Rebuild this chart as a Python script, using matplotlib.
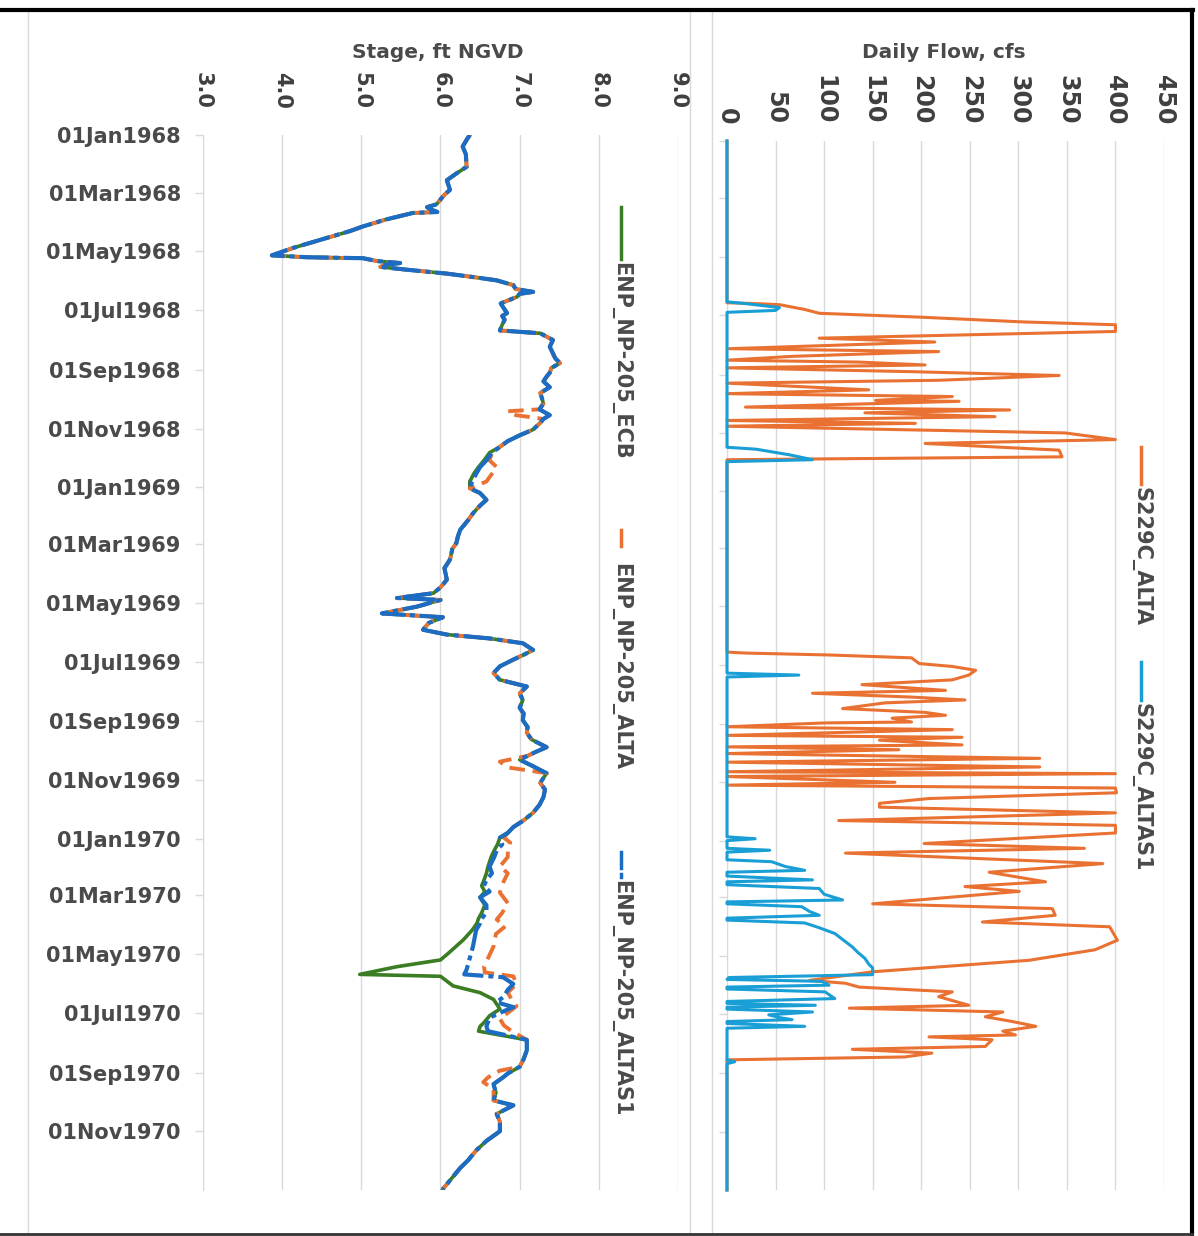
import numpy as np
import matplotlib
matplotlib.use("Agg")
import matplotlib.pyplot as plt
from matplotlib.lines import Line2D

# ---------------- data ----------------
START = np.datetime64('1968-01-01')
END = np.datetime64('1971-01-01')

DATE_TICKS = ['1968-01-01', '1968-03-01', '1968-05-01', '1968-07-01', '1968-09-01', '1968-11-01',
              '1969-01-01', '1969-03-01', '1969-05-01', '1969-07-01', '1969-09-01', '1969-11-01',
              '1970-01-01', '1970-03-01', '1970-05-01', '1970-07-01', '1970-09-01', '1970-11-01']
DATE_LABELS = ['01Jan1968', '01Mar1968', '01May1968', '01Jul1968', '01Sep1968', '01Nov1968',
               '01Jan1969', '01Mar1969', '01May1969', '01Jul1969', '01Sep1969', '01Nov1969',
               '01Jan1970', '01Mar1970', '01May1970', '01Jul1970', '01Sep1970', '01Nov1970']
STAGE_TICKS = [3, 4, 5, 6, 7, 8, 9]
STAGE_LABELS = ['3.0', '4.0', '5.0', '6.0', '7.0', '8.0', '9.0']
FLOW_TICKS = [0, 50, 100, 150, 200, 250, 300, 350, 400, 450]

# stage series: day offset from 01Jan1968, stage (ft NGVD)
ALTAS1_DAYS = [0, 5, 12, 20, 33, 40, 47, 52, 57, 62, 67, 72, 75, 78, 80, 81, 88, 95, 100, 109,
               117, 125, 127, 128, 131, 133, 135, 137, 140, 144, 148, 151, 156, 160, 163, 165, 168, 172, 175, 180,
               185, 188, 192, 197, 203, 206, 210, 213, 220, 227, 232, 237, 242, 247, 251, 256, 262, 268, 273, 279,
               285, 291, 295, 299, 306, 312, 318, 324, 330, 338, 345, 352, 360, 367, 372, 379, 385, 393, 400, 410,
               417, 424, 430, 441, 450, 462, 470, 476, 481, 483, 490, 497, 501, 507, 514, 519, 523, 528, 535, 540,
               545, 552, 559, 566, 573, 580, 587, 595, 601, 608, 615, 621, 628, 636, 641, 649, 655, 663, 668, 673,
               680, 688, 696, 704, 712, 719, 725, 730, 737, 743, 750, 760, 767, 774, 780, 786, 792, 800, 808, 814,
               819, 826, 843, 867, 872, 875, 882, 888, 895, 901, 906, 912, 917, 926, 931, 940, 951, 960, 968, 975,
               979, 986, 995, 1003, 1008, 1017, 1025, 1035, 1045, 1055, 1065, 1073, 1085, 1095]
ALTAS1_STAGE = [6.37, 6.33, 6.28, 6.32, 6.33, 6.20, 6.08, 6.10, 6.12, 6.05, 6.00, 5.95, 5.83, 5.90, 5.96, 5.65, 5.30, 5.02, 4.85, 4.48,
                4.15, 3.87, 4.31, 5.02, 5.20, 5.49, 5.30, 5.24, 5.58, 6.08, 6.45, 6.71, 6.92, 6.95, 7.17, 7.00, 6.97, 6.85, 6.76, 6.80,
                6.84, 6.78, 6.81, 6.78, 6.75, 7.26, 7.35, 7.42, 7.38, 7.42, 7.45, 7.51, 7.40, 7.38, 7.34, 7.30, 7.38, 7.26, 7.28, 7.30,
                7.25, 7.38, 7.30, 7.26, 7.17, 7.00, 6.85, 6.75, 6.65, 6.58, 6.50, 6.45, 6.40, 6.37, 6.50, 6.58, 6.50, 6.41, 6.35, 6.25,
                6.22, 6.20, 6.15, 6.12, 6.05, 6.08, 6.00, 5.91, 5.45, 6.00, 5.70, 5.26, 6.03, 5.85, 5.78, 6.08, 6.62, 7.04, 7.17, 7.05,
                6.92, 6.75, 6.67, 6.75, 7.09, 7.00, 7.04, 7.00, 7.05, 7.04, 7.10, 7.09, 7.15, 7.34, 7.20, 7.00, 7.15, 7.34, 7.30, 7.26,
                7.32, 7.30, 7.25, 7.17, 7.05, 6.92, 6.85, 6.75, 6.78, 6.71, 6.68, 6.62, 6.65, 6.58, 6.55, 6.62, 6.50, 6.58, 6.58, 6.52,
                6.50, 6.45, 6.41, 6.33, 6.30, 6.79, 6.92, 6.85, 6.80, 6.71, 6.92, 6.75, 6.62, 6.58, 6.60, 7.09, 7.09, 7.05, 7.00, 6.85,
                6.79, 6.67, 6.70, 6.67, 6.92, 6.71, 6.75, 6.75, 6.58, 6.45, 6.35, 6.25, 6.13, 6.03]

ALTA_DAYS = [0, 5, 12, 20, 33, 40, 47, 52, 57, 62, 67, 72, 75, 78, 80, 81, 88, 95, 100, 109,
             117, 125, 127, 128, 131, 133, 135, 137, 140, 144, 148, 151, 156, 160, 163, 165, 168, 172, 175, 180,
             185, 188, 192, 197, 203, 206, 210, 213, 220, 227, 232, 237, 242, 247, 251, 256, 262, 268, 273, 279,
             285, 287, 291, 295, 299, 306, 312, 318, 324, 330, 338, 345, 352, 360, 367, 372, 379, 385, 393, 400, 410,
             417, 424, 430, 441, 450, 462, 470, 476, 481, 483, 490, 497, 501, 507, 514, 519, 523, 528, 535, 540,
             545, 552, 559, 566, 573, 580, 587, 595, 601, 608, 615, 621, 628, 636, 641, 645, 651, 657, 663, 668, 673,
             680, 688, 696, 704, 712, 719, 725, 730, 735, 742, 750, 760, 767, 775, 787, 798, 808, 815,
             822, 830, 843, 864, 870, 874, 882, 891, 898, 905, 912, 918, 925, 931, 940, 951, 960, 968, 972,
             979, 984, 991, 1003, 1008, 1017, 1025, 1035, 1045, 1055, 1065, 1073, 1085, 1095]
ALTA_STAGE = [6.37, 6.33, 6.28, 6.32, 6.33, 6.20, 6.08, 6.10, 6.12, 6.05, 6.00, 5.95, 5.83, 5.90, 5.96, 5.65, 5.30, 5.02, 4.85, 4.48,
              4.15, 3.87, 4.31, 5.02, 5.20, 5.49, 5.30, 5.24, 5.58, 6.08, 6.45, 6.71, 6.92, 6.95, 7.17, 7.00, 6.97, 6.85, 6.76, 6.80,
              6.84, 6.78, 6.81, 6.78, 6.75, 7.26, 7.35, 7.42, 7.38, 7.42, 7.45, 7.51, 7.40, 7.38, 7.34, 7.30, 7.38, 7.26, 7.28, 7.30,
              7.25, 6.85, 6.95, 7.30, 7.26, 7.17, 7.00, 6.85, 6.75, 6.65, 6.62, 6.71, 6.65, 6.58, 6.37, 6.50, 6.58, 6.50, 6.41, 6.35, 6.25,
              6.22, 6.20, 6.15, 6.12, 6.05, 6.08, 6.00, 5.91, 5.45, 6.00, 5.70, 5.26, 6.03, 5.85, 5.78, 6.08, 6.62, 7.04, 7.17, 7.05,
              6.92, 6.75, 6.67, 6.75, 7.09, 7.00, 7.04, 7.00, 7.05, 7.04, 7.10, 7.09, 7.15, 7.34, 7.20, 7.10, 6.75, 6.85, 7.34, 7.30, 7.26,
              7.32, 7.30, 7.25, 7.17, 7.05, 6.92, 6.85, 6.80, 6.88, 6.85, 6.85, 6.75, 6.85, 6.80, 6.75, 6.85, 6.78, 6.71,
              6.82, 6.70, 6.67, 6.55, 6.56, 6.92, 6.96, 6.85, 6.90, 6.96, 6.85, 6.75, 6.80, 6.90, 7.09, 7.09, 7.05, 7.00, 6.75,
              6.60, 6.54, 6.67, 6.67, 6.92, 6.71, 6.75, 6.75, 6.58, 6.45, 6.35, 6.25, 6.13, 6.03]

ECB_DAYS = [0, 5, 12, 20, 33, 40, 47, 52, 57, 62, 67, 72, 75, 78, 80, 81, 88, 95, 100, 109,
            117, 125, 127, 128, 131, 133, 135, 137, 140, 144, 148, 151, 156, 160, 163, 165, 168, 172, 175, 180,
            185, 188, 192, 197, 203, 206, 210, 213, 220, 227, 232, 237, 242, 247, 251, 256, 262, 268, 273, 279,
            285, 291, 295, 299, 306, 312, 318, 324, 330, 338, 345, 352, 360, 367, 372, 379, 385, 393, 400, 410,
            417, 424, 430, 441, 450, 462, 470, 476, 481, 483, 490, 497, 501, 507, 514, 519, 523, 528, 535, 540,
            545, 552, 559, 566, 573, 580, 587, 595, 601, 608, 615, 621, 628, 636, 641, 649, 655, 663, 668, 673,
            680, 688, 696, 704, 712, 719, 725, 730, 737, 743, 750, 760, 767, 774, 780, 786, 792, 800, 808, 814,
            819, 826, 836, 850, 857, 864, 872, 874, 884, 891, 898, 908, 915, 922, 926, 931, 940, 951, 960, 968, 975,
            979, 986, 995, 1003, 1008, 1017, 1025, 1035, 1045, 1055, 1065, 1073, 1085, 1095]
ECB_STAGE = [6.37, 6.33, 6.28, 6.32, 6.33, 6.20, 6.08, 6.10, 6.12, 6.05, 6.00, 5.95, 5.83, 5.90, 5.96, 5.65, 5.30, 5.02, 4.85, 4.48,
             4.15, 3.87, 4.31, 5.02, 5.20, 5.49, 5.30, 5.24, 5.58, 6.08, 6.45, 6.71, 6.92, 6.95, 7.17, 7.00, 6.97, 6.85, 6.76, 6.80,
             6.84, 6.78, 6.81, 6.78, 6.75, 7.26, 7.35, 7.42, 7.38, 7.42, 7.45, 7.51, 7.40, 7.38, 7.34, 7.30, 7.38, 7.26, 7.28, 7.30,
             7.25, 7.38, 7.30, 7.26, 7.17, 7.00, 6.85, 6.75, 6.62, 6.55, 6.48, 6.42, 6.37, 6.37, 6.50, 6.58, 6.50, 6.41, 6.35, 6.25,
             6.22, 6.20, 6.15, 6.12, 6.05, 6.08, 6.00, 5.91, 5.45, 6.00, 5.70, 5.26, 6.03, 5.85, 5.78, 6.08, 6.62, 7.04, 7.17, 7.05,
             6.92, 6.75, 6.67, 6.75, 7.09, 7.00, 7.04, 7.00, 7.05, 7.04, 7.10, 7.09, 7.15, 7.34, 7.20, 7.00, 7.15, 7.34, 7.30, 7.26,
             7.32, 7.30, 7.25, 7.17, 7.05, 6.92, 6.85, 6.75, 6.72, 6.68, 6.64, 6.60, 6.58, 6.55, 6.52, 6.56, 6.50, 6.56, 6.52, 6.48,
             6.46, 6.40, 6.29, 6.10, 6.00, 5.45, 4.98, 6.00, 6.16, 6.50, 6.67, 6.75, 6.62, 6.55, 6.50, 6.48, 7.09, 7.09, 7.05, 7.00, 6.85,
             6.79, 6.67, 6.70, 6.67, 6.92, 6.71, 6.75, 6.75, 6.58, 6.45, 6.35, 6.25, 6.13, 6.03]

# flow series: day offset, daily flow (cfs)
S229C_ALTA_DAYS = [0, 169, 170, 171, 176, 180, 184, 189, 192, 199, 203, 206, 210, 213, 217, 220, 225, 229, 231, 234,
                   237, 241, 245, 250, 253, 260, 264, 267, 271, 272, 278, 281, 284, 288, 292, 295, 298, 305, 312, 316,
                   323, 330, 333, 534, 535, 537, 540, 546, 549, 553, 558, 563, 568, 574, 577, 581, 584, 587, 593, 597,
                   600, 603, 607, 608, 612, 615, 621, 623, 626, 631, 633, 636, 640, 645, 649, 654, 659, 661, 664, 670,
                   673, 676, 681, 687, 692, 696, 702, 710, 715, 723, 734, 739, 744, 755, 764, 774, 779, 784, 797, 802,
                   809, 816, 821, 835, 845, 856, 868, 877, 880, 884, 889, 894, 903, 906, 910, 915, 920, 925, 930, 934,
                   936, 939, 946, 949, 953, 957, 960, 1096]
S229C_ALTA_FLOW = [0, 0, 33, 54, 80, 95, 198, 304, 400, 400, 225, 95, 214, 122, 2, 218, 67, 0, 136, 204,
                   0, 190, 342, 218, 0, 146, 0, 232, 153, 239, 19, 291, 142, 276, 0, 194, 0, 348, 400, 204,
                   342, 345, 0, 0, 19, 105, 190, 198, 232, 256, 249, 232, 139, 225, 88, 190, 245, 163, 119, 204,
                   225, 170, 190, 101, 0, 232, 0, 242, 157, 242, 0, 177, 0, 322, 0, 322, 0, 400, 0, 173,
                   0, 400, 401, 208, 157, 157, 400, 115, 400, 400, 203, 368, 122, 387, 270, 328, 245, 301, 150, 335,
                   338, 263, 394, 402, 379, 311, 150, 85, 122, 136, 232, 218, 249, 126, 284, 266, 294, 318, 284, 297,
                   208, 273, 266, 129, 211, 183, 0, 0]

S229C_ALTAS1_DAYS = [0, 168, 170, 174, 177, 179, 320, 322, 328, 333, 335, 556, 558, 560, 727, 729, 731, 739, 741, 743,
                     751, 753, 758, 762, 764, 768, 772, 774, 777, 781, 787, 793, 795, 797, 800, 805, 809, 812, 814, 817,
                     822, 828, 835, 842, 848, 854, 860, 864, 871, 874, 876, 878, 882, 884, 886, 889, 896, 899, 901, 903,
                     905, 907, 910, 913, 916, 918, 920, 922, 925, 927, 960, 962, 964, 1096]
S229C_ALTAS1_FLOW = [0, 0, 20, 54, 50, 0, 0, 30, 65, 88, 0, 0, 74, 0, 0, 29, 0, 0, 44, 0,
                     0, 46, 60, 80, 0, 0, 88, 0, 0, 95, 100, 119, 0, 0, 77, 85, 95, 0, 0, 80,
                     95, 111, 120, 129, 135, 142, 146, 150, 150, 2, 0, 98, 105, 0, 0, 101, 111, 0, 0, 91,
                     0, 0, 88, 43, 55, 67, 0, 0, 80, 0, 0, 8, 0, 0]

# ---------------- styling ----------------
GREEN = '#3B7D23'
ORANGE = '#E97132'
BLUE = '#1C6CC4'
CYAN = '#1A9ED6'
GRID = '#D9D9D9'
TXT = '#4A4A4A'
FONT = 'DejaVu Sans'

W, H = 1198, 1236
fig = plt.figure(figsize=(W / 100, H / 100), dpi=100)
fig.patch.set_facecolor('white')


def fx(px):
    return px / W


def fy(py):
    return 1 - py / H


def to_dates(days):
    return START + np.array(days, dtype='timedelta64[D]')


tick_dates = np.array(DATE_TICKS, dtype='datetime64[D]')

# ---------------- left panel: stage ----------------
axL = fig.add_axes([fx(203), fy(1190), (678 - 203) / W, (1190 - 135) / H])
axL.plot(ECB_STAGE, to_dates(ECB_DAYS), color=GREEN, lw=2.6, solid_joinstyle='round', zorder=3)
axL.plot(ALTA_STAGE, to_dates(ALTA_DAYS), color=ORANGE, lw=2.8, dashes=(4, 2), zorder=4)
axL.plot(ALTAS1_STAGE, to_dates(ALTAS1_DAYS), color=BLUE, lw=3.0, dashes=(7, 1.2, 1.2, 1.2), zorder=5)
axL.set_xlim(3, 9)
axL.set_ylim(END, START)
axL.set_xticks(STAGE_TICKS)
axL.set_xticklabels(STAGE_LABELS, rotation=270, fontsize=15, fontweight='semibold', color='#3F3F3F', family=FONT)
axL.xaxis.tick_top()
axL.tick_params(axis='x', length=0, pad=19)
axL.set_yticks(tick_dates)
axL.set_yticklabels(DATE_LABELS, fontsize=15, fontweight='bold', color=TXT, family=FONT)
axL.tick_params(axis='y', length=6, width=1, color=GRID, pad=10)
axL.grid(axis='x', color=GRID, lw=1)
axL.set_axisbelow(True)
for s in ['top', 'right', 'bottom']:
    axL.spines[s].set_visible(False)
axL.spines['left'].set_color(GRID)

# ---------------- right panel: flow ----------------
axR = fig.add_axes([fx(727), fy(1190), (1164 - 727) / W, (1190 - 141) / H])
axR.plot(S229C_ALTA_FLOW, to_dates(S229C_ALTA_DAYS), color=ORANGE, lw=2.2, zorder=3, clip_on=False)
axR.plot(S229C_ALTAS1_FLOW, to_dates(S229C_ALTAS1_DAYS), color=CYAN, lw=2.2, zorder=4, clip_on=False)
axR.set_xlim(0, 450)
axR.set_ylim(END, START)
axR.set_xticks(FLOW_TICKS)
axR.set_xticklabels([str(v) for v in FLOW_TICKS], rotation=270, fontsize=17, fontweight='semibold',
                    color='#3F3F3F', family=FONT)
axR.xaxis.tick_top()
axR.tick_params(axis='x', length=0, pad=12)
axR.set_yticks(tick_dates)
axR.set_yticklabels([])
axR.tick_params(axis='y', length=6, width=1, color=GRID)
axR.grid(axis='x', color=GRID, lw=1)
axR.set_axisbelow(True)
for s in ['top', 'right', 'bottom']:
    axR.spines[s].set_visible(False)
axR.spines['left'].set_color(GRID)

# ---------------- titles ----------------
fig.text(fx(438), fy(52), 'Stage, ft NGVD', ha='center', va='center', fontsize=14.5,
         fontweight='bold', color=TXT, family=FONT)
fig.text(fx(944), fy(52), 'Daily Flow, cfs', ha='center', va='center', fontsize=14.5,
         fontweight='bold', color=TXT, family=FONT)

# ---------------- legends (rotated) ----------------
def vtext(x, y, s):
    fig.text(fx(x), fy(y), s, rotation=270, rotation_mode='anchor', ha='left', va='center',
             fontsize=15, fontweight='bold', color=TXT, family=FONT)


fig.add_artist(Line2D([fx(621), fx(621)], [fy(207), fy(259)], color=GREEN, lw=2.5))
vtext(621, 262, 'ENP_NP-205_ECB')
fig.add_artist(Line2D([fx(621), fx(621)], [fy(530), fy(546)], color=ORANGE, lw=2.5))
vtext(621, 563, 'ENP_NP-205_ALTA')
fig.add_artist(Line2D([fx(621), fx(621)], [fy(852), fy(868)], color=BLUE, lw=2.5))
fig.add_artist(Line2D([fx(621), fx(621)], [fy(874), fy(877)], color=BLUE, lw=2.5))
vtext(621, 880, 'ENP_NP-205_ALTAS1')

fig.add_artist(Line2D([fx(1141), fx(1141)], [fy(447), fy(484)], color=ORANGE, lw=2.5))
vtext(1141, 487, 'S229C_ALTA')
fig.add_artist(Line2D([fx(1141), fx(1141)], [fy(662), fy(700)], color=CYAN, lw=2.5))
vtext(1141, 703, 'S229C_ALTAS1')

# ---------------- frames ----------------
fig.add_artist(Line2D([fx(28), fx(28)], [fy(12), fy(1236)], color=GRID, lw=1))
fig.add_artist(Line2D([fx(690), fx(690)], [fy(12), fy(1236)], color=GRID, lw=1))
fig.add_artist(Line2D([fx(712), fx(712)], [fy(12), fy(1236)], color=GRID, lw=1))
fig.add_artist(Line2D([0, fx(1193)], [fy(10), fy(10)], color='black', lw=3))
fig.add_artist(Line2D([fx(1192), fx(1192)], [fy(10), 0], color='black', lw=3))
fig.add_artist(Line2D([0, fx(1192)], [fy(1234), fy(1234)], color='#333333', lw=2))

fig.savefig('out.png', dpi=100, facecolor='white')
